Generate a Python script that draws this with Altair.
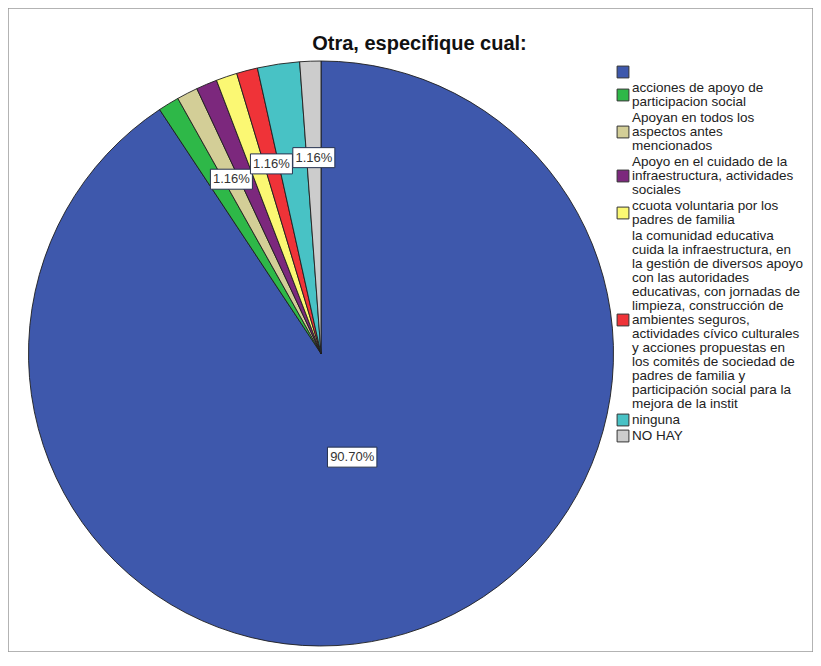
import altair as alt
import pandas as pd

# ---------------- data ----------------
categories = [
    "",
    "acciones de apoyo de\nparticipacion social",
    "Apoyan en todos los\naspectos antes\nmencionados",
    "Apoyo en el cuidado de la\ninfraestructura, actividades\nsociales",
    "ccuota voluntaria por los\npadres de familia",
    "la comunidad educativa\ncuida la infraestructura, en\nla gestión de diversos apoyo\ncon las autoridades\neducativas, con jornadas de\nlimpieza, construcción de\nambientes seguros,\nactividades cívico culturales\ny acciones propuestas en\nlos comités de sociedad de\npadres de familia y\nparticipación social para la\nmejora de la instit",
    "ninguna",
    "NO HAY",
]
counts = [78, 1, 1, 1, 1, 1, 2, 1]
colors = ["#3E58AC", "#2EB848", "#D3CE97", "#7C287D", "#FBF873", "#EF3338", "#48C2C5", "#CCCCCC"]
show_label = [1, 0, 1, 0, 0, 1, 0, 1]
title_text = "Otra, especifique cual:"

# ---------------- layout constants ----------------
W, H = 805, 644
CX, CY, R = 313, 345.5, 292.5
R_SMALL, R_BIG = 0.67 * R, 0.37 * R
LEG_SYM_X, LEG_TXT_X = 615, 624
LEG_Y0, LEG_LH, LEG_GAP = 57, 14, 2
FONT = "Liberation Sans"

df = pd.DataFrame({
    "idx": list(range(len(categories))),
    "category": categories,
    "count": counts,
    "show": show_label,
})

xs = alt.Scale(domain=[0, W], range=[0, W], nice=False, zero=False)
ys = alt.Scale(domain=[0, H], range=[0, H], nice=False, zero=False)
cscale = alt.Scale(domain=categories, range=colors)

base = alt.Chart(df)

pie = base.mark_arc(outerRadius=R, stroke="#1e1e1e", strokeWidth=0.9).encode(
    theta=alt.Theta("count:Q", stack=True),
    color=alt.Color("category:N", scale=cscale, legend=None),
    order=alt.Order("idx:Q"),
    x=alt.value(CX),
    y=alt.value(CY),
)

lab = base.transform_joinaggregate(
    total="sum(count)"
).transform_window(
    cum="sum(count)", sort=[alt.SortField("idx")], frame=[None, 0]
).transform_calculate(
    mid="2*PI*(datum.cum - datum.count/2)/datum.total",
    rr=f"datum.count/datum.total > 0.5 ? {R_BIG} : {R_SMALL}",
).transform_calculate(
    lx=f"{CX} + datum.rr*sin(datum.mid)",
    ly=f"{CY} - datum.rr*cos(datum.mid)",
    pct="format(100*datum.count/datum.total, '.2f') + '%'",
).transform_calculate(
    bw="7.4*length(datum.pct) + 5",
).transform_calculate(
    x0="datum.lx - datum.bw/2",
    x1="datum.lx + datum.bw/2",
    y0="datum.ly - 10",
    y1="datum.ly + 10",
).transform_filter("datum.show == 1")

boxes = lab.mark_rect(fill="white", stroke="#26324f", strokeWidth=1).encode(
    x=alt.X("x0:Q", scale=xs, axis=None),
    x2="x1:Q",
    y=alt.Y("y0:Q", scale=ys, axis=None),
    y2="y1:Q",
)
texts = lab.mark_text(font=FONT, fontSize=13, color="#333333").encode(
    x=alt.X("lx:Q", scale=xs, axis=None),
    y=alt.Y("ly:Q", scale=ys, axis=None),
    text="pct:N",
)

leg = base.transform_calculate(
    nl="length(split(datum.category, '\\n'))"
).transform_window(
    cl="sum(nl)", sort=[alt.SortField("idx")], frame=[None, 0]
).transform_calculate(
    legy=f"{LEG_Y0} + (datum.cl - datum.nl/2)*{LEG_LH} + datum.idx*{LEG_GAP}",
    legy1=f"{LEG_Y0} + (datum.cl - datum.nl + 0.5)*{LEG_LH} + datum.idx*{LEG_GAP}",
)

leg_sym = leg.mark_square(size=140, stroke="#333333", strokeWidth=1, opacity=1).encode(
    x=alt.value(LEG_SYM_X),
    y=alt.Y("legy:Q", scale=ys, axis=None),
    fill=alt.Fill("category:N", scale=cscale, legend=None),
)
leg_txt = leg.mark_text(
    font=FONT, fontSize=13.5, color="#222222", align="left", baseline="middle",
    lineBreak="\n", lineHeight=LEG_LH,
).encode(
    x=alt.value(LEG_TXT_X),
    y=alt.Y("legy1:Q", scale=ys, axis=None),
    text="category:N",
)

chart = alt.layer(pie, boxes, texts, leg_sym, leg_txt).properties(
    width=W,
    height=H,
    padding=0,
    autosize="none",
    title=alt.TitleParams(
        title_text, font=FONT, fontSize=20, fontWeight="bold", color="#111111",
        anchor="middle", orient="top", offset=0, dy=62, dx=9, baseline="alphabetic",
    ),
).configure_view(stroke="#9a9a9a", strokeWidth=1.5)

chart.save("out.html", embed_options={"renderer": "svg", "actions": False})
